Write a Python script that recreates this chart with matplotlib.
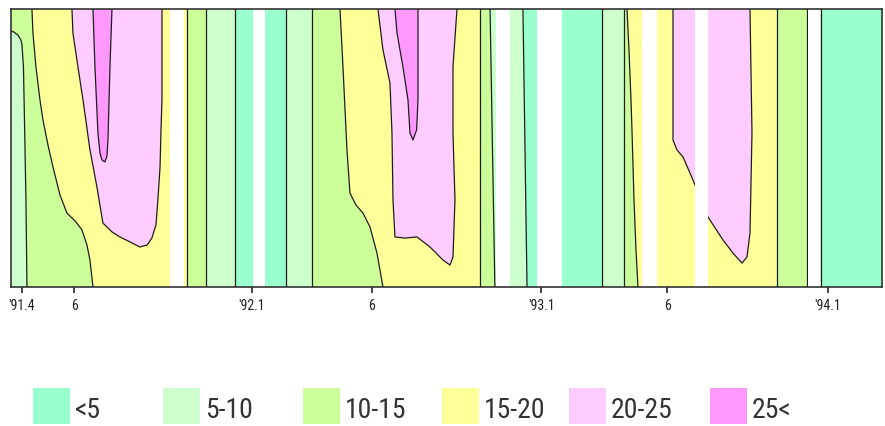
import numpy as np
import matplotlib
matplotlib.use('Agg')
import matplotlib.pyplot as plt
from matplotlib.patches import Rectangle
from matplotlib import font_manager as fm

# ---------------- data ----------------
# time axis: months counted from Jan 1991 ; depth: 0 (surface) .. 100 (bottom, relative)
band_labels = ['<5', '5-10', '10-15', '15-20', '20-25', '25<']
band_colors = ['#99FFCC', '#CCFFCC', '#CCFF99', '#FFFF99', '#FFCCFF', '#FF99FF']

tick_months = [2.4, 4.6, 12.0, 17.0, 24.05, 29.3, 36.0]
tick_labels = ["'91.4", '6', "'92.1", '6', "'93.1", '6', "'94.1"]

t_start, t_end = 1.96, 38.25

# nearly vertical isotherm crossings (time at surface / at bottom)
vert_iso_top = [9.29, 10.08, 11.29, 13.42, 14.5, 21.5, 21.92, 23.29, 26.58, 27.5, 33.875, 35.125, 35.71]
vert_iso_bot = [9.29, 10.08, 11.29, 13.42, 14.5, 21.5, 22.12, 23.46, 26.58, 27.5, 33.875, 35.125, 35.71]

# 10-15 / 15-20 boundaries (curved)
iso15_91_t = [2.833, 2.875, 3.0, 3.167, 3.292, 3.5, 3.708, 4.0, 4.292, 4.667, 4.917, 5.125, 5.25, 5.375]
iso15_91_d = [0, 8.6, 20.9, 32.7, 39.9, 48.9, 56.8, 66.9, 73.4, 76.6, 79.5, 84.9, 90.3, 100]
iso15_92_t = [15.667, 15.792, 15.958, 16.083, 16.333, 16.625, 16.917, 17.208, 17.333, 17.458]
iso15_92_d = [0, 20.9, 50.7, 66.2, 70.5, 73.4, 78.4, 87.8, 93.9, 100]
iso15_93_t = [27.625, 27.708, 27.792, 27.833, 27.917, 28.0, 28.083]
iso15_93_d = [0, 14.7, 32.7, 43.5, 68.7, 86.7, 100]

# band of each stripe between consecutive boundaries (index into band_labels)
stripe_bands = [2, 3, 2, 1, 0, 1, 2, 3, 2, 1, 0, 1, 2, 3, 2, 1, 0]

# 5-10 layer at the start of the record (below the surface)
iso10_91_t = [1.958, 2.083, 2.25, 2.375, 2.417, 2.479, 2.521, 2.583, 2.625]
iso10_91_d = [7.9, 8.3, 9.4, 11.2, 12.9, 20.9, 39.9, 68.7, 100]

# 20-25 warm cores
warm20_91_t = [4.5, 4.54, 4.75, 4.96, 5.25, 5.54, 5.79, 6.17, 6.5, 6.92, 7.33, 7.63, 7.83, 8.0, 8.08, 8.17, 8.21, 8.25, 8.25, 8.25]
warm20_91_d = [0, 8.6, 20.9, 32.7, 50.7, 64.0, 77.0, 80.2, 82.0, 83.8, 85.6, 84.9, 82.4, 77.7, 68.7, 56.8, 43.5, 32.7, 14.7, 0]
warm20_92_t = [17.25, 17.458, 17.75, 17.833, 17.875, 17.958, 18.375, 18.875, 19.417, 19.958, 20.25, 20.375, 20.458, 20.375, 20.375, 20.542]
warm20_92_d = [0, 14.7, 26.6, 44.6, 68.7, 82.0, 82.4, 82.0, 85.6, 90.3, 92.1, 89.2, 68.7, 44.6, 20.9, 0]
warm20_93_t = [29.542, 29.542, 29.708, 29.958, 30.375, 31.0, 31.625, 32.042, 32.417, 32.625, 32.75, 32.833, 32.75]
warm20_93_d = [0, 47.1, 50.7, 53.2, 61.5, 74.8, 83.1, 87.8, 91.4, 89.2, 80.6, 44.6, 0]

# >25 cores
warm25_91_t = [5.375, 5.458, 5.583, 5.667, 5.75, 5.875, 5.958, 6.0, 6.083, 6.167]
warm25_91_d = [0, 20.9, 44.6, 51.8, 54.3, 55.0, 52.9, 47.1, 20.9, 0]
warm25_92_t = [17.958, 18.042, 18.292, 18.5, 18.583, 18.708, 18.86, 18.917, 18.917]
warm25_92_d = [0, 8.6, 20.9, 32.7, 44.6, 47.1, 43.5, 32.7, 0]

# periods without observations
gap_start = [8.6, 12.04, 22.17, 23.88, 28.25, 30.46, 35.17]
gap_end = [9.15, 12.54, 22.75, 24.92, 28.875, 31.0, 35.67]

# ---------------- fonts ----------------
names = {f.name for f in fm.fontManager.ttflist}
narrow_choices = ['Liberation Sans Narrow', 'Roboto Condensed', 'Open Sans Condensed',
                  'DejaVu Sans Condensed', 'Noto Sans Condensed']
family = None
for n in narrow_choices:
    if n in names:
        family = n
        break
if family is not None:
    leg_fs, tick_fs = 20, 10
else:
    family = 'Liberation Sans' if 'Liberation Sans' in names else 'DejaVu Sans'
    leg_fs, tick_fs = 17.5, 9
plt.rcParams['font.family'] = [family, 'DejaVu Sans']

# ---------------- figure ----------------
W, H = 885, 426
fig = plt.figure(figsize=(W / 100, H / 100), dpi=100)
ax = fig.add_axes([11 / W, (H - 287) / H, 871 / W, 278 / H])

edges = [([t_start - 1, t_start - 1], [0, 100]), ([t_end + 1, t_end + 1], [0, 100]),
         (iso15_91_t, iso15_91_d), (iso15_92_t, iso15_92_d), (iso15_93_t, iso15_93_d)]
for a, b in zip(vert_iso_top, vert_iso_bot):
    edges.append(([a, b], [0, 100]))
edges.sort(key=lambda e: e[0][0])

for i, band in enumerate(stripe_bands):
    lt, ld = edges[i]
    rt, rd = edges[i + 1]
    xs = list(lt) + list(rt)[::-1]
    ys = list(ld) + list(rd)[::-1]
    ax.fill(xs, ys, color=band_colors[band], lw=0, zorder=1)

# early 5-10 layer
ax.fill(list(iso10_91_t) + [t_start - 1, t_start - 1], list(iso10_91_d) + [100, iso10_91_d[0]],
        color=band_colors[1], lw=0, zorder=1.1)
for tt, dd in [(warm20_91_t, warm20_91_d), (warm20_92_t, warm20_92_d), (warm20_93_t, warm20_93_d)]:
    ax.fill(tt, dd, color=band_colors[4], lw=0, zorder=1.2)
for tt, dd in [(warm25_91_t, warm25_91_d), (warm25_92_t, warm25_92_d)]:
    ax.fill(tt, dd, color=band_colors[5], lw=0, zorder=1.3)

lc, lw = '#1e1e1e', 0.9
for tt, dd in edges[1:-1]:
    ax.plot(tt, dd, color=lc, lw=lw, zorder=2)
for tt, dd in [(iso10_91_t, iso10_91_d), (warm20_91_t, warm20_91_d), (warm20_92_t, warm20_92_d),
               (warm20_93_t, warm20_93_d), (warm25_91_t, warm25_91_d), (warm25_92_t, warm25_92_d)]:
    ax.plot(tt, dd, color=lc, lw=lw, zorder=2)

for a, b in zip(gap_start, gap_end):
    ax.axvspan(a, b, color='white', lw=0, zorder=3)

ax.set_xlim(t_start, t_end)
ax.set_ylim(100, 0)
ax.set_yticks([])
ax.set_xticks(tick_months)
ax.set_xticklabels(tick_labels)
ax.tick_params(axis='x', direction='out', length=4, width=1.2, pad=4.5, labelsize=tick_fs,
               colors='#222222')
for s in ax.spines.values():
    s.set_linewidth(1.2)
    s.set_color('#333333')
    s.set_zorder(5)

# legend (manual, as in the original layout)
patch_x = [33, 163, 303, 442, 569, 710]
for x, c, lab in zip(patch_x, band_colors, band_labels):
    fig.patches.append(Rectangle((x / W, 2 / H), 37 / W, 36 / H, transform=fig.transFigure,
                                 facecolor=c, edgecolor='none'))
    fig.text((x + 42) / W, 8 / H, lab, fontsize=leg_fs, color='#333333', va='baseline', ha='left')

fig.savefig('out.png', dpi=100)
